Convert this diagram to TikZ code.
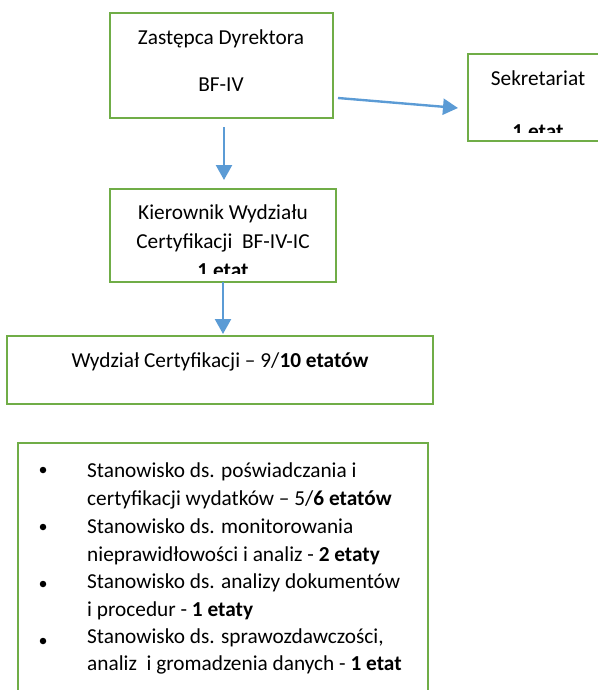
\documentclass[tikz,border=0pt]{standalone}
\usepackage{fontspec}
\setmainfont{Carlito}
\usetikzlibrary{arrows.meta}
\definecolor{boxgreen}{HTML}{70AD47}
\definecolor{arrowblue}{HTML}{5B9BD5}
\begin{document}
\begin{tikzpicture}[x=1pt,y=-1pt,
  gbox/.style={draw=boxgreen,line width=2.6pt},
  conn/.style={draw=arrowblue,line width=2.4pt,-{Triangle[length=15pt,width=16pt]}},
  txt/.style={inner sep=0pt,anchor=base,font=\fontsize{21.3}{25}\selectfont},
  ltxt/.style={inner sep=0pt,anchor=base west,font=\fontsize{21.3}{25}\selectfont},
  bul/.style={circle,fill=black,inner sep=0pt,minimum size=6.5pt}]
\useasboundingbox (0,0) rectangle (597,690);
% boxes
\draw[gbox] (110,13) rectangle (333,118);
\coordinate (zbot) at (224,127);
\coordinate (zright) at (338,98);
\draw[gbox] (468,54) rectangle (620,141);
\coordinate (sleft) at (458,108);
\draw[gbox] (110,189) rectangle (336,282);
\coordinate (ktop) at (224,180);
\coordinate (kbot) at (223,282);
\draw[gbox] (7,336) rectangle (433,404);
\coordinate (wtop) at (223,334);
\draw[gbox] (18,443) rectangle (428,720);
% texts
\node[txt] (z1) at (221,45) {Zastępca Dyrektora};
\node[txt] (z2) at (221,92) {BF-IV};
\node[txt] (s1) at (538,86) {Sekretariat};
\begin{scope}
\clip (468,54) rectangle (620,132);
\node[txt] (s2) at (538,139) {\bfseries 1 etat};
\end{scope}
\node[txt] (k1) at (223,219) {Kierownik Wydziału};
\node[txt] (k2) at (223,248) {Certyfikacji\ \ BF-IV-IC};
\begin{scope}
\clip (110,189) rectangle (336,273);
\node[txt] (k3) at (223,277) {\bfseries 1 etat};
\end{scope}
\node[txt] (w1) at (220,367) {Wydział Certyfikacji – 9/\textbf{10 etatów}};
% list
\node[ltxt] (l1) at (87,477) {Stanowisko ds. poświadczania i};
\node[ltxt] (l2) at (87,505) {certyfikacji wydatków – 5/\textbf{6 etatów}};
\node[ltxt] (l3) at (87,533) {Stanowisko ds. monitorowania};
\node[ltxt] (l4) at (87,561) {nieprawidłowości i analiz - \textbf{2 etaty}};
\node[ltxt] (l5) at (87,588) {Stanowisko ds. analizy dokumentów};
\node[ltxt] (l6) at (87,616) {i procedur - \textbf{1 etaty}};
\node[ltxt] (l7) at (87,643) {Stanowisko ds. sprawozdawczości,};
\node[ltxt] (l8) at (87,670) {analiz\ \ i gromadzenia danych - \textbf{1 etat}};
\node[bul] (b1) at (43,470) {};
\node[bul] (b2) at (43,527) {};
\node[bul] (b3) at (43,584) {};
\node[bul] (b4) at (43,641) {};
% connectors
\draw[conn] (zbot) -- (ktop);
\draw[conn] (zright) -- (sleft);
\draw[conn] (kbot) -- (wtop);
\end{tikzpicture}
\end{document}
